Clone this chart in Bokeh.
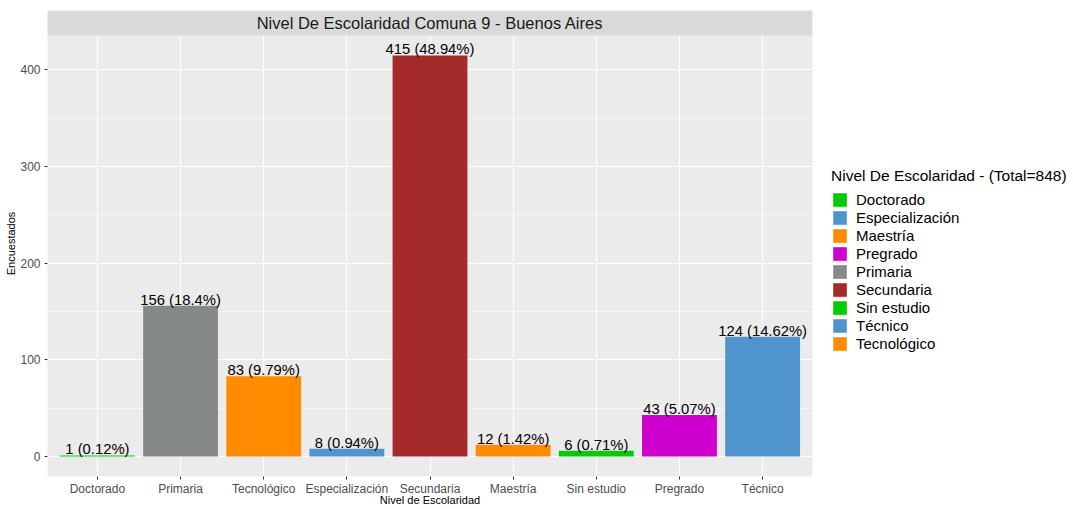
from bokeh.plotting import figure
from bokeh.layouts import row
from bokeh.models import ColumnDataSource, Range1d, FixedTicker, Legend, LegendItem
from bokeh.core.properties import value
from bokeh.embed import file_html
from bokeh.resources import INLINE

categories = ["Doctorado", "Primaria", "Tecnológico", "Especialización", "Secundaria",
              "Maestría", "Sin estudio", "Pregrado", "Técnico"]
counts = [1, 156, 83, 8, 415, 12, 6, 43, 124]
percents = ["0.12%", "18.4%", "9.79%", "0.94%", "48.94%", "1.42%", "0.71%", "5.07%", "14.62%"]
colors = ["#00CD00", "#858A88", "#FF8C00", "#4F94CD", "#A52A2A",
          "#FF8C00", "#00CD00", "#CD00CD", "#4F94CD"]
legend_order = ["Doctorado", "Especialización", "Maestría", "Pregrado", "Primaria",
                "Secundaria", "Sin estudio", "Técnico", "Tecnológico"]
y_ticks = [0, 100, 200, 300, 400]
y_minor = [50, 150, 250, 350]
total = sum(counts)

FONT = "Liberation Sans"
xs = list(range(1, len(categories) + 1))
labels = [f"{c} ({p})" for c, p in zip(counts, percents)]
src = ColumnDataSource(dict(x=xs, top=counts, color=colors, label=labels, cat=categories))

ymax = max(counts) * 1.05
ymin = -max(counts) * 0.05
strip_h = (ymax - ymin) * 25 / 442

H = 508
W_MAIN, W_LEG = 813, 260
p = figure(width=W_MAIN, height=H, output_backend="svg", toolbar_location=None,
           x_range=Range1d(0.4, len(categories) + 0.6),
           y_range=Range1d(ymin, ymax + strip_h),
           min_border_left=47, min_border_right=1, min_border_top=10, min_border_bottom=0)
p.background_fill_color = "#EBEBEB"
p.border_fill_color = "white"
p.outline_line_color = None

r = p.vbar(x="x", top="top", width=0.9, bottom=0, fill_color="color", line_color=None, source=src)
p.text(x="x", y="top", text="label", source=src, text_align="center", text_baseline="bottom",
       text_font_size="14.8px", text_color="black", text_font=value(FONT), y_offset=2)

# facet-style strip
p.quad(left=0.4, right=len(categories) + 0.6, bottom=ymax, top=ymax + strip_h,
       fill_color="#D9D9D9", line_color=None)
p.text(x=[(1 + len(categories)) / 2], y=[ymax + strip_h / 2],
       text=["Nivel De Escolaridad Comuna 9 - Buenos Aires"], text_align="center",
       text_baseline="middle", text_font_size="16.5px", text_color="#1A1A1A", text_font=value(FONT))

# axes
p.xaxis.ticker = FixedTicker(ticks=xs, minor_ticks=[])
p.xaxis.major_label_overrides = {x: c for x, c in zip(xs, categories)}
p.yaxis.ticker = FixedTicker(ticks=y_ticks, minor_ticks=y_minor)
for ax in (p.xaxis, p.yaxis):
    ax.axis_line_color = None
    ax.major_tick_line_color = "#333333"
    ax.major_tick_out = 3
    ax.major_tick_in = 0
    ax.minor_tick_line_color = None
    ax.major_label_text_font = FONT
    ax.major_label_text_font_size = "12px"
    ax.major_label_text_color = "#4D4D4D"
    ax.axis_label_text_font = FONT
    ax.axis_label_text_font_size = "11px"
    ax.axis_label_text_font_style = "normal"
    ax.axis_label_text_color = "black"
p.xaxis.axis_label = "Nivel de Escolaridad"
p.yaxis.axis_label = "Encuestados"
p.xaxis.major_label_standoff = 2
p.xaxis.axis_label_standoff = -5
p.yaxis.major_label_standoff = 3
p.yaxis.axis_label_standoff = 0

p.xgrid.grid_line_color = "white"
p.xgrid.grid_line_width = 1.1
p.ygrid.grid_line_color = "white"
p.ygrid.grid_line_width = 1.1
p.ygrid.minor_grid_line_color = "white"
p.ygrid.minor_grid_line_width = 0.55

# legend panel (separate figure so its width is fixed); proxy bars lie outside its view
lf = figure(width=W_LEG, height=H, output_backend="svg", toolbar_location=None,
            x_range=Range1d(-10, -9), y_range=Range1d(0, 1),
            x_axis_location=None, y_axis_location=None,
            min_border_left=0, min_border_right=0, min_border_top=0, min_border_bottom=0)
lf.outline_line_color = None
lf.background_fill_color = "white"
lf.border_fill_color = "white"
lf.grid.visible = False
lr = lf.vbar(x="x", top="top", width=0.9, bottom=0, fill_color="color", line_color=None, source=src)

items = []
for name in legend_order:
    items.append(LegendItem(label=name, renderers=[lr], index=categories.index(name)))
legend = Legend(items=items, location=(18, 124), ncols=1,
                title=f"Nivel De Escolaridad - (Total={total})")
legend.title_text_font = FONT
legend.title_text_font_size = "15.5px"
legend.title_text_font_style = "normal"
legend.title_text_color = "black"
legend.title_standoff = 6
legend.label_text_font = FONT
legend.label_text_font_size = "15px"
legend.label_text_color = "black"
legend.glyph_width = 17
legend.glyph_height = 17
legend.label_height = 17
legend.label_standoff = 8
legend.spacing = 1
legend.padding = 0
legend.margin = 0
legend.border_line_color = None
legend.background_fill_color = None
lf.add_layout(legend, "center")

layout = row(p, lf)
open("out.html", "w").write(file_html(layout, INLINE))
